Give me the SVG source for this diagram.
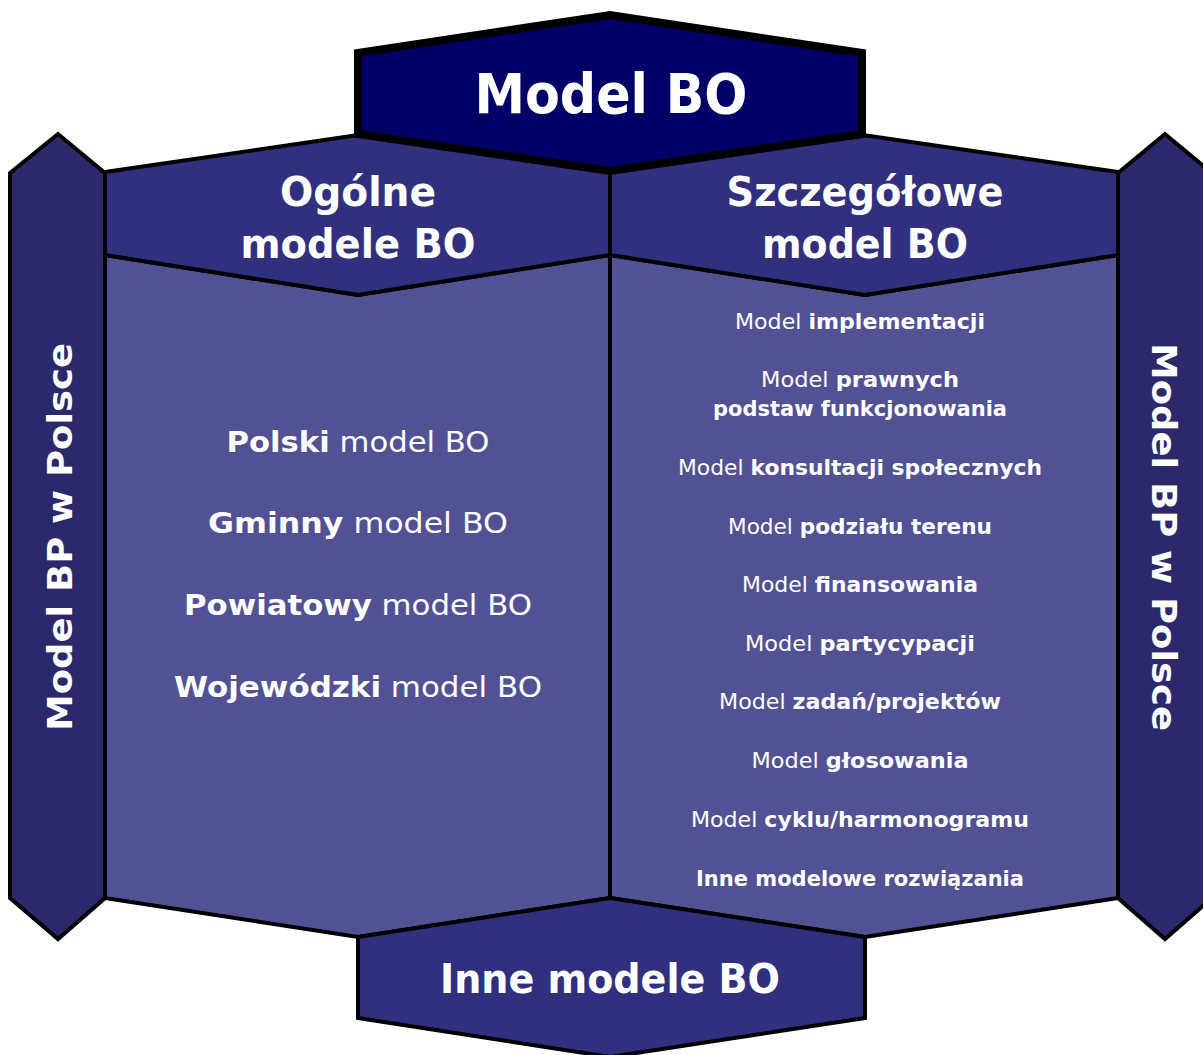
<svg xmlns="http://www.w3.org/2000/svg" width="1203" height="1055" viewBox="0 0 1203 1055">
<style>
  .shape { stroke: #000; stroke-width: 4; stroke-linejoin: miter; }
  .side { fill: #2b296b; }
  .head { fill: #30307f; }
  .body { fill: #525193; }
  .top { fill: #000066; stroke-width: 8; }
  .t { font-family: "DejaVu Sans", "Liberation Sans", sans-serif; fill: #fff; text-anchor: middle; }
  .b { font-weight: bold; }
  .n { font-weight: normal; }
</style>
<rect width="1203" height="1055" fill="#fff"/>
<g id="left-side">
  <polygon class="shape side" points="10,173 58,134 105,173 105,898 58,939 10,898"/>
  <text class="t b" font-size="34" transform="translate(72,537) rotate(-90)" textLength="388" lengthAdjust="spacingAndGlyphs">Model BP w Polsce</text>
</g>
<g id="right-side">
  <polygon class="shape side" points="1118,173 1165,134 1212,173 1212,898 1165,939 1118,898"/>
  <text class="t b" font-size="34" transform="translate(1152,537) rotate(90)" textLength="388" lengthAdjust="spacingAndGlyphs">Model BP w Polsce</text>
</g>
<g id="left-body">
  <polygon class="shape body" points="105,255 358,295 610,255 610,898 358,937 105,898"/>
  <text class="t" font-size="29" x="358" y="452" textLength="263" lengthAdjust="spacingAndGlyphs"><tspan class="b">Polski</tspan><tspan class="n"> model BO</tspan></text>
  <text class="t" font-size="29" x="358" y="533" textLength="300" lengthAdjust="spacingAndGlyphs"><tspan class="b">Gminny</tspan><tspan class="n"> model BO</tspan></text>
  <text class="t" font-size="29" x="358" y="615" textLength="348" lengthAdjust="spacingAndGlyphs"><tspan class="b">Powiatowy</tspan><tspan class="n"> model BO</tspan></text>
  <text class="t" font-size="29" x="358" y="697" textLength="368" lengthAdjust="spacingAndGlyphs"><tspan class="b">Wojewódzki</tspan><tspan class="n"> model BO</tspan></text>
</g>
<g id="right-body">
  <polygon class="shape body" points="610,255 865,295 1118,255 1118,898 865,937 610,898"/>
  <g font-size="21">
  <text class="t" x="860" y="329" textLength="250" lengthAdjust="spacingAndGlyphs"><tspan class="n">Model </tspan><tspan class="b">implementacji</tspan></text>
  <text class="t" x="860" y="387" textLength="198" lengthAdjust="spacingAndGlyphs"><tspan class="n">Model </tspan><tspan class="b">prawnych</tspan></text>
  <text class="t b" x="860" y="416" textLength="294" lengthAdjust="spacingAndGlyphs">podstaw funkcjonowania</text>
  <text class="t" x="860" y="475" textLength="364" lengthAdjust="spacingAndGlyphs"><tspan class="n">Model </tspan><tspan class="b">konsultacji społecznych</tspan></text>
  <text class="t" x="860" y="534" textLength="264" lengthAdjust="spacingAndGlyphs"><tspan class="n">Model </tspan><tspan class="b">podziału terenu</tspan></text>
  <text class="t" x="860" y="592" textLength="236" lengthAdjust="spacingAndGlyphs"><tspan class="n">Model </tspan><tspan class="b">finansowania</tspan></text>
  <text class="t" x="860" y="651" textLength="230" lengthAdjust="spacingAndGlyphs"><tspan class="n">Model </tspan><tspan class="b">partycypacji</tspan></text>
  <text class="t" x="860" y="709" textLength="282" lengthAdjust="spacingAndGlyphs"><tspan class="n">Model </tspan><tspan class="b">zadań/projektów</tspan></text>
  <text class="t" x="860" y="768" textLength="217" lengthAdjust="spacingAndGlyphs"><tspan class="n">Model </tspan><tspan class="b">głosowania</tspan></text>
  <text class="t" x="860" y="827" textLength="338" lengthAdjust="spacingAndGlyphs"><tspan class="n">Model </tspan><tspan class="b">cyklu/harmonogramu</tspan></text>
  <text class="t b" x="860" y="886" textLength="328" lengthAdjust="spacingAndGlyphs">Inne modelowe rozwiązania</text>
  </g>
</g>
<g id="left-header">
  <polygon class="shape head" points="105,172 358,135 610,172 610,255 358,295 105,255"/>
  <text class="t b" font-size="40" x="358" y="206" textLength="156" lengthAdjust="spacingAndGlyphs">Ogólne</text>
  <text class="t b" font-size="40" x="358" y="258" textLength="235" lengthAdjust="spacingAndGlyphs">modele BO</text>
</g>
<g id="right-header">
  <polygon class="shape head" points="610,172 863,135 1118,172 1118,255 865,295 610,255"/>
  <text class="t b" font-size="40" x="865" y="206" textLength="277" lengthAdjust="spacingAndGlyphs">Szczegółowe</text>
  <text class="t b" font-size="40" x="865" y="258" textLength="206" lengthAdjust="spacingAndGlyphs">model BO</text>
</g>
<g id="bottom-hex">
  <polygon class="shape head" points="358,937 610,898 865,937 865,1018 610,1057 358,1018"/>
  <text class="t b" font-size="40" x="610" y="993" textLength="340" lengthAdjust="spacingAndGlyphs">Inne modele BO</text>
</g>
<g id="top-hex">
  <polygon class="shape top" points="358,53 610,15 862,53 862,134 610,171 358,134"/>
  <text class="t b" font-size="55" x="611" y="113" textLength="273" lengthAdjust="spacingAndGlyphs">Model BO</text>
</g>
<g id="connectors"/>
</svg>
